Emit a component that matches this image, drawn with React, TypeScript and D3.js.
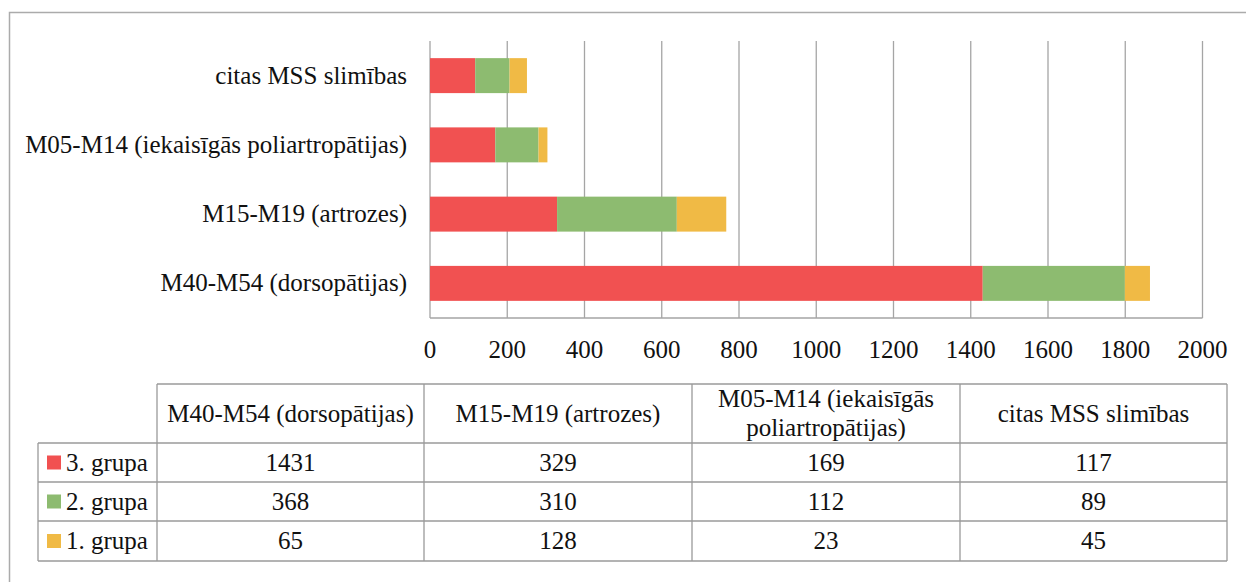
import React from "react";
import * as d3 from "d3";

const categories = [
  "M40-M54 (dorsopātijas)",
  "M15-M19 (artrozes)",
  "M05-M14 (iekaisīgās poliartropātijas)",
  "citas MSS slimības",
];
const headerLines = [
  ["M40-M54 (dorsopātijas)"],
  ["M15-M19 (artrozes)"],
  ["M05-M14 (iekaisīgās", "poliartropātijas)"],
  ["citas MSS slimības"],
];
const seriesNames = ["3. grupa", "2. grupa", "1. grupa"];
const grupa3 = [1431, 329, 169, 117];
const grupa2 = [368, 310, 112, 89];
const grupa1 = [65, 128, 23, 45];
const seriesColors = ["#F15151", "#8DBB70", "#F0BA45"];
const xTicks = [0, 200, 400, 600, 800, 1000, 1200, 1400, 1600, 1800, 2000];

const FONT = "Liberation Serif, DejaVu Serif, serif";

export default function App() {
  const W = 1246, H = 582;
  const x = d3.scaleLinear().domain([0, 2000]).range([430, 1202.5]);
  const yOrder = [...categories].reverse();
  const y = d3
    .scaleBand<string>()
    .domain(yOrder)
    .range([41, 318])
    .paddingInner(0.495)
    .paddingOuter(0.2475);

  const seriesValues = [grupa3, grupa2, grupa1];
  const table = categories.map((c, i) => {
    const row: any = { cat: c };
    seriesNames.forEach((s, j) => (row[s] = seriesValues[j][i]));
    return row;
  });
  const stack = d3.stack<any>().keys(seriesNames)(table);

  const colX = [38, 157, 424, 692, 960, 1227];
  const rowY = [384, 443, 482, 521, 561];
  const gridColor = "#A5A5A5";
  const tableColor = "#9A9A9A";
  const fs = 25;
  const tp = { fontSize: fs, fill: "#111", style: { fontFamily: FONT } };

  return (
    <svg
      width={W}
      height={H}
      style={{ position: "absolute", left: 0, top: 0, background: "#fff", fontFamily: FONT }}
    >
      <rect x={9.5} y={12.5} width={1300} height={700} fill="#fff" stroke="#ABABAB" strokeWidth={1.5} />

      {xTicks.map((t) => (
        <line key={t} x1={x(t)} x2={x(t)} y1={41} y2={318} stroke={gridColor} strokeWidth={1.3} />
      ))}
      <line x1={x(0)} x2={x(2000)} y1={318} y2={318} stroke={gridColor} strokeWidth={1.3} />

      {stack.map((layer, j) => (
        <g key={layer.key} fill={seriesColors[j]}>
          {layer.map((d, i) => (
            <rect
              key={i}
              x={x(d[0])}
              width={x(d[1]) - x(d[0])}
              y={y(categories[i])}
              height={y.bandwidth()}
            />
          ))}
        </g>
      ))}

      {xTicks.map((t) => (
        <text key={t} x={x(t)} y={358} textAnchor="middle" {...tp}>
          {t}
        </text>
      ))}

      {categories.map((c) => (
        <text
          key={c}
          x={407}
          y={(y(c) as number) + y.bandwidth() / 2}
          dy="0.32em"
          textAnchor="end"
          {...tp}
        >
          {c}
        </text>
      ))}

      <g stroke={tableColor} strokeWidth={1.3} fill="none">
        <line x1={colX[1]} x2={colX[5]} y1={rowY[0]} y2={rowY[0]} />
        {rowY.slice(1).map((ry) => (
          <line key={ry} x1={colX[0]} x2={colX[5]} y1={ry} y2={ry} />
        ))}
        <line x1={colX[0]} x2={colX[0]} y1={rowY[1]} y2={rowY[4]} />
        {colX.slice(1).map((cx) => (
          <line key={cx} x1={cx} x2={cx} y1={rowY[0]} y2={rowY[4]} />
        ))}
      </g>
      {headerLines.map((lines, i) => {
        const cx = (colX[i + 1] + colX[i + 2]) / 2;
        const cy = (rowY[0] + rowY[1]) / 2;
        const lh = 29;
        return lines.map((l, k) => (
          <text
            key={i + "-" + k}
            x={cx}
            y={cy + (k - (lines.length - 1) / 2) * lh}
            dy="0.32em"
            textAnchor="middle"
            {...tp}
          >
            {l}
          </text>
        ));
      })}
      {seriesNames.map((s, j) => {
        const cy = (rowY[j + 1] + rowY[j + 2]) / 2;
        return (
          <g key={s}>
            <rect x={47} y={cy - 7} width={14} height={14} fill={seriesColors[j]} />
            <text x={66} y={cy} dy="0.32em" {...tp}>
              {s}
            </text>
            {seriesValues[j].map((v, i) => (
              <text
                key={i}
                x={(colX[i + 1] + colX[i + 2]) / 2}
                y={cy}
                dy="0.32em"
                textAnchor="middle"
                {...tp}
              >
                {v}
              </text>
            ))}
          </g>
        );
      })}
    </svg>
  );
}
